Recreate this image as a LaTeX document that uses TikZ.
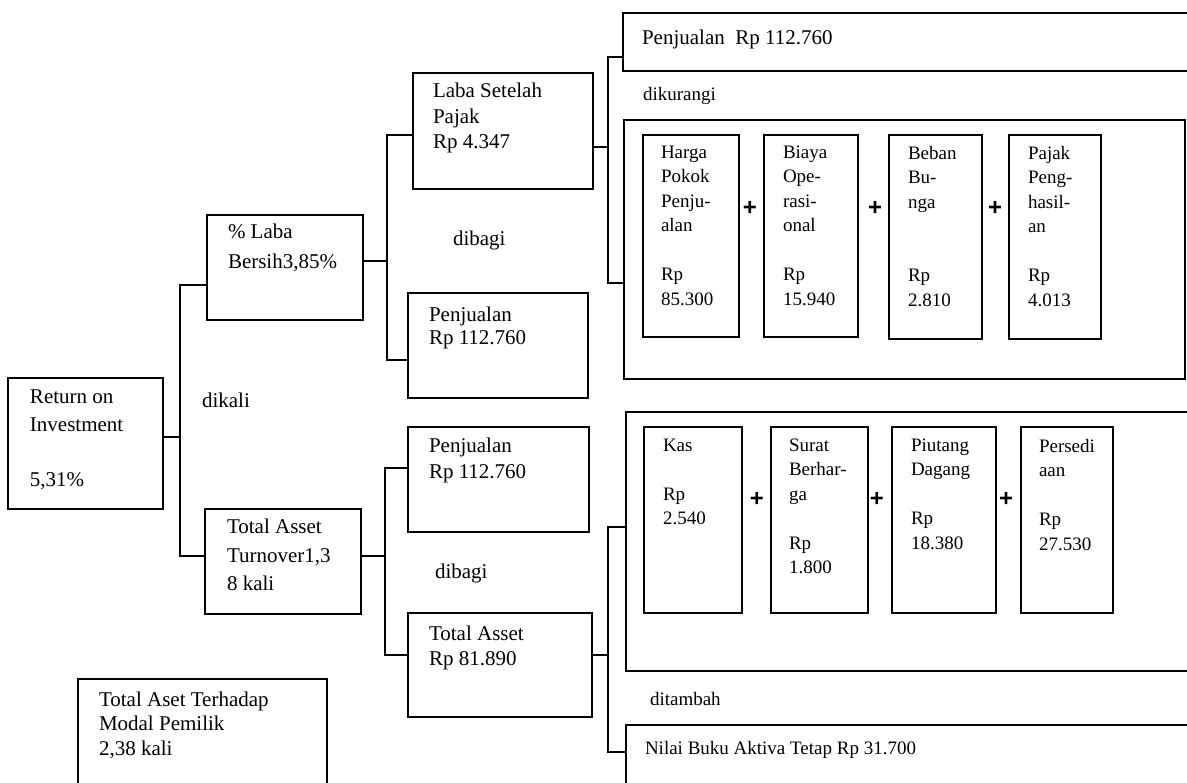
\documentclass[tikz,border=0pt]{standalone}
\usepackage{fontspec}
\setmainfont{Liberation Serif}
\newfontfamily\plusfont{Liberation Sans}
\usetikzlibrary{fit}
\begin{document}
\begin{tikzpicture}[x=1pt,y=-1pt,
  box/.style={draw, line width=1.8pt, inner sep=0pt, outer sep=0pt},
  conn/.style={line width=1.8pt},
  fnt/.style 2 args={font=\fontsize{#1}{#2}\selectfont},
  txt/.style={inner sep=0pt, outer sep=0pt, align=left, anchor=north west, execute at begin node=\strut},
  lbl/.style={inner sep=0pt, outer sep=0pt, anchor=base west},
  plus/.style={inner sep=0pt, font=\plusfont\bfseries\fontsize{24}{28}\selectfont}
]
\useasboundingbox (0,0) rectangle (1187,783);
\clip (0,0) rectangle (1187,783);

% ---------- boxes ----------
\node[box, fit={(8,378) (163,509)}] (roi) {};
\node[box, fit={(207,215) (363,320)}] (laba) {};
\node[box, fit={(205,509) (361,614)}] (tat) {};
\node[box, fit={(413,73) (593,189)}] (lsp) {};
\node[box, fit={(408,293) (588,398)}] (pj1) {};
\node[box, fit={(408,427) (589,532)}] (pj2) {};
\node[box, fit={(408,613) (592,717)}] (ta) {};
\node[box, fit={(623,13) (1230,71)}] (pjtop) {};
\node[box, fit={(624,120) (1185,379)}] (cost) {};
\node[box, fit={(643,135) (739,337)}] (c1) {};
\node[box, fit={(764,135) (858,337)}] (c2) {};
\node[box, fit={(889,135) (982,339)}] (c3) {};
\node[box, fit={(1009,135) (1101,339)}] (c4) {};
\node[box, fit={(626,412) (1230,671)}] (asset) {};
\node[box, fit={(644,427) (742,613)}] (a1) {};
\node[box, fit={(771,427) (868,613)}] (a2) {};
\node[box, fit={(892,427) (996,613)}] (a3) {};
\node[box, fit={(1021,427) (1113,613)}] (a4) {};
\node[box, fit={(626,725) (1230,820)}] (nilai) {};
\node[box, fit={(78,679) (327,820)}] (tamp) {};

% ---------- texts in boxes ----------
\node[txt, fnt={21}{27.7}] (troi) at (30,389.6) {Return on\\Investment\\[27.7pt]5,31\%};
\node[txt, fnt={21}{30}] (tlaba) at (228,224) {\% Laba\\Bersih3,85\%};
\node[txt, fnt={21}{28.5}] (ttat) at (227,519) {Total Asset\\Turnover1,3\\8 kali};
\node[txt, fnt={21}{25.5}] (tlsp) at (433,83.2) {Laba Setelah\\Pajak\\Rp 4.347};
\node[txt, fnt={21}{23}] (tpj1) at (429,306.9) {Penjualan\\Rp 112.760};
\node[txt, fnt={21}{26}] (tpj2) at (429,437.8) {Penjualan\\Rp 112.760};
\node[txt, fnt={21}{25}] (tta) at (429,625.5) {Total Asset\\Rp 81.890};
\node[lbl, fnt={21}{25}] (tpjtop) at (642,45) {Penjualan~ Rp 112.760};
\node[txt, fnt={19}{24.5}] (tc1) at (661,145.85) {Harga\\Pokok\\Penju-\\alan\\[24.5pt]Rp\\85.300};
\node[txt, fnt={19}{24.5}] (tc2) at (783,145.85) {Biaya\\Ope-\\rasi-\\onal\\[24.5pt]Rp\\15.940};
\node[txt, fnt={19}{24.5}] (tc3) at (908,145.85) {Beban\\Bu-\\nga\\[49pt]Rp\\2.810};
\node[txt, fnt={19}{24.5}] (tc4) at (1028,145.85) {Pajak\\Peng-\\hasil-\\an\\[24.5pt]Rp\\4.013};
\node[txt, fnt={19}{24.5}] (ta1) at (663,438.85) {Kas\\[24.5pt]Rp\\2.540};
\node[txt, fnt={19}{24.5}] (ta2) at (789,438.85) {Surat\\Berhar-\\ga\\[24.5pt]Rp\\1.800};
\node[txt, fnt={19}{24.5}] (ta3) at (911,438.85) {Piutang\\Dagang\\[24.5pt]Rp\\18.380};
\node[txt, fnt={19}{24.5}] (ta4) at (1039,438.85) {Persedi\\aan\\[24.5pt]Rp\\27.530};
\node[lbl, fnt={19}{24}] (tnilai) at (645,754) {Nilai Buku Aktiva Tetap Rp 31.700};
\node[txt, fnt={21}{24.5}] (ttamp) at (99,691.85) {Total Aset Terhadap\\Modal Pemilik\\2,38 kali};

% ---------- operator labels ----------
\node[lbl, fnt={21}{25}] (dikali) at (202,408) {dikali};
\node[lbl, fnt={21}{25}] (dibagi1) at (453,246) {dibagi};
\node[lbl, fnt={21}{25}] (dibagi2) at (435,578) {dibagi};
\node[lbl, fnt={19}{24}] (dikurangi) at (643,101) {dikurangi};
\node[lbl, fnt={19}{24}] (ditambah) at (650,705) {ditambah};

\node[plus] (p1) at (750,208) {+};
\node[plus] (p2) at (875,208) {+};
\node[plus] (p3) at (995,208) {+};
\node[plus] (p4) at (757,499) {+};
\node[plus] (p5) at (877,499) {+};
\node[plus] (p6) at (1006,499) {+};

% ---------- connectors ----------
\coordinate (s1t) at (180,285);
\coordinate (s1m) at (180,437);
\coordinate (s1b) at (180,556);
\draw[conn] (roi.east |- s1m) -- (s1m);
\draw[conn] (laba.west |- s1t) -- (s1t) -- (s1b) -- (tat.west |- s1b);

\coordinate (s2t) at (387,135);
\coordinate (s2m) at (387,261);
\coordinate (s2b) at (387,360);
\draw[conn] (laba.east |- s2m) -- (s2m);
\draw[conn] (lsp.west |- s2t) -- (s2t) -- (s2b) -- (pj1.west |- s2b);

\coordinate (s3t) at (608,57);
\coordinate (s3m) at (608,147);
\coordinate (s3b) at (608,283);
\draw[conn] (lsp.east |- s3m) -- (s3m);
\draw[conn] (pjtop.west |- s3t) -- (s3t) -- (s3b) -- (cost.west |- s3b);

\coordinate (s4t) at (385,468);
\coordinate (s4m) at (385,556);
\coordinate (s4b) at (385,655);
\draw[conn] (tat.east |- s4m) -- (s4m);
\draw[conn] (pj2.west |- s4t) -- (s4t) -- (s4b) -- (ta.west |- s4b);

\coordinate (s5t) at (608,527);
\coordinate (s5m) at (608,655);
\coordinate (s5b) at (608,752);
\draw[conn] (ta.east |- s5m) -- (s5m);
\draw[conn] (asset.west |- s5t) -- (s5t) -- (s5b) -- (nilai.west |- s5b);
\end{tikzpicture}
\end{document}
